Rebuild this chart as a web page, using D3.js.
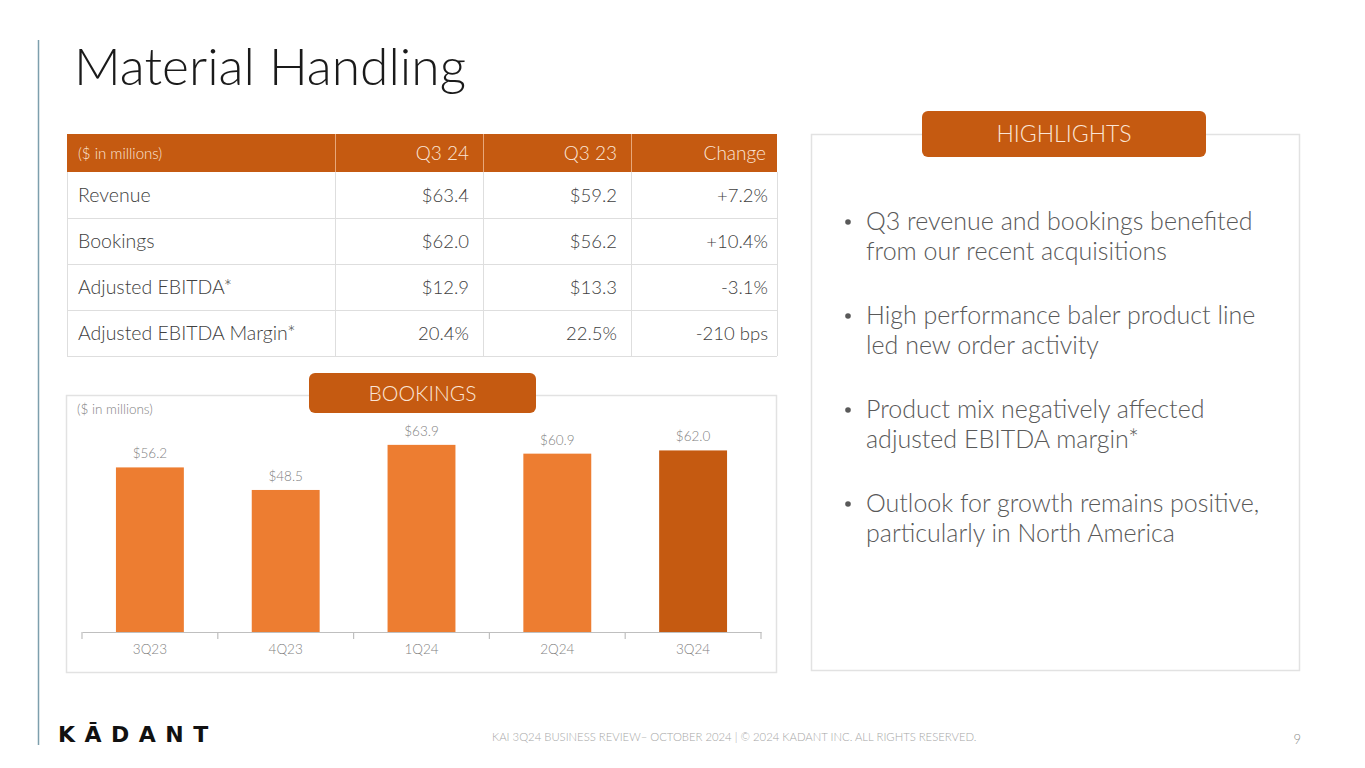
<!DOCTYPE html>
<html>
<head>
<meta charset="utf-8">
<script src="https://cdn.jsdelivr.net/npm/d3@7"></script>
<style>
  html, body { margin: 0; padding: 0; background: #fff; }
  svg { display: block; font-family: Lato, "Open Sans", sans-serif; }
</style>
</head>
<body>
<svg id="chart" width="1365" height="768"></svg>
<script>
// ---------- data ----------
const categories = ["3Q23", "4Q23", "1Q24", "2Q24", "3Q24"];
const bookings = [56.2, 48.5, 63.9, 60.9, 62.0];
const valueLabels = ["$56.2", "$48.5", "$63.9", "$60.9", "$62.0"];

const tableHeader = ["($ in millions)", "Q3 24", "Q3 23", "Change"];
const rowLabels = ["Revenue", "Bookings", "Adjusted EBITDA*", "Adjusted EBITDA Margin*"];
const colQ324 = ["$63.4", "$62.0", "$12.9", "20.4%"];
const colQ323 = ["$59.2", "$56.2", "$13.3", "22.5%"];
const colChange = ["+7.2%", "+10.4%", "-3.1%", "-210 bps"];

const highlights = [
  ["Q3 revenue and bookings benefited", "from our recent acquisitions"],
  ["High performance baler product line", "led new order activity"],
  ["Product mix negatively affected", "adjusted EBITDA margin*"],
  ["Outlook for growth remains positive,", "particularly in North America"]
];

// ---------- drawing ----------
const svg = d3.select("#chart");
const ORANGE = "#C55A11", LIGHT = "#ED7D31", PALE = "#fbe5d6";

// left rule
svg.append("line").attr("x1", 38.5).attr("x2", 38.5).attr("y1", 40).attr("y2", 745)
  .attr("stroke", "#7d9fad").attr("stroke-width", 1.5);

// title
svg.append("text").attr("x", 74).attr("y", 85).attr("font-size", 51.5).attr("font-weight", 300)
  .attr("fill", "#1a1a1a").text("Material Handling");

// ---------- table ----------
const tX = 67, tW = 710, headY = 134, headH = 38, rowH = 46;
const colEdges = [67, 335, 483, 631, 777];
const colRight = [469, 617, 766];
svg.append("rect").attr("x", tX).attr("y", headY).attr("width", tW).attr("height", headH).attr("fill", ORANGE);
colEdges.slice(1, 4).forEach(x => {
  svg.append("line").attr("x1", x + 0.5).attr("x2", x + 0.5).attr("y1", headY).attr("y2", headY + headH)
    .attr("stroke", "#e8a77a").attr("stroke-width", 1);
});
svg.append("text").attr("x", 78).attr("y", 159).attr("font-size", 15).attr("font-weight", 300)
  .attr("fill", PALE).text(tableHeader[0]);
tableHeader.slice(1).forEach((h, i) => {
  svg.append("text").attr("x", colRight[i]).attr("y", 160).attr("text-anchor", "end")
    .attr("font-size", 19).attr("font-weight", 300).attr("fill", PALE).text(h);
});
const bodyTop = headY + headH;
const grid = svg.append("g").attr("stroke", "#dedede").attr("stroke-width", 1);
rowLabels.forEach((r, i) => {
  const y = bodyTop + (i + 1) * rowH;
  grid.append("line").attr("x1", tX).attr("x2", tX + tW).attr("y1", y + 0.5).attr("y2", y + 0.5);
});
colEdges.forEach(x => {
  grid.append("line").attr("x1", x + 0.5).attr("x2", x + 0.5).attr("y1", bodyTop).attr("y2", bodyTop + 4 * rowH);
});
const cols = [colQ324, colQ323, colChange];
rowLabels.forEach((r, i) => {
  const y = bodyTop + i * rowH + 30;
  svg.append("text").attr("x", 78).attr("y", y).attr("font-size", 19.5).attr("font-weight", 300)
    .attr("fill", "#404040").text(r);
  cols.forEach((c, j) => {
    svg.append("text").attr("x", colRight[j] + (j === 2 ? 2 : 0)).attr("y", y).attr("text-anchor", "end")
      .attr("font-size", 18.5).attr("font-weight", 300).attr("fill", "#404040").text(c[i]);
  });
});

// ---------- bar chart ----------
svg.append("rect").attr("x", 66.5).attr("y", 395.5).attr("width", 710).attr("height", 277)
  .attr("fill", "none").attr("stroke", "#e2e2e2").attr("stroke-width", 1.5);
svg.append("rect").attr("x", 309).attr("y", 373).attr("width", 227).attr("height", 40).attr("rx", 6)
  .attr("fill", ORANGE);
svg.append("text").attr("x", 422.5).attr("y", 401).attr("text-anchor", "middle").attr("font-size", 21)
  .attr("font-weight", 300).attr("fill", PALE).text("BOOKINGS");
svg.append("text").attr("x", 77).attr("y", 414).attr("font-size", 13.5).attr("font-weight", 300)
  .attr("fill", "#7f7f7f").text("($ in millions)");

const x = d3.scaleBand().domain(categories).range([82, 761]).paddingInner(0.5).paddingOuter(0.25);
const y = d3.scaleLinear().domain([0, 70]).range([632, 427]);

svg.append("g").selectAll("rect").data(categories).join("rect")
  .attr("x", d => x(d)).attr("width", x.bandwidth())
  .attr("y", (d, i) => y(bookings[i])).attr("height", (d, i) => y(0) - y(bookings[i]))
  .attr("fill", (d, i) => i === categories.length - 1 ? ORANGE : LIGHT);

svg.append("g").selectAll("text").data(categories).join("text")
  .attr("x", d => x(d) + x.bandwidth() / 2).attr("y", (d, i) => y(bookings[i]) - 9)
  .attr("text-anchor", "middle").attr("font-size", 13.5).attr("font-weight", 300).attr("fill", "#7f7f7f")
  .text((d, i) => valueLabels[i]);

// axis
const axis = svg.append("g").attr("transform", `translate(0,${y(0)})`)
  .call(d3.axisBottom(x).tickSize(0).tickPadding(12));
axis.select(".domain").attr("stroke", "#bfbfbf").attr("stroke-width", 1.2);
axis.selectAll("text").attr("font-family", "Lato, sans-serif").attr("font-size", 13.5)
  .attr("font-weight", 300).attr("fill", "#7f7f7f");
const boundaries = d3.range(categories.length + 1).map(i => x.range()[0] + i * x.step());
svg.append("g").selectAll("line").data(boundaries).join("line")
  .attr("x1", d => d).attr("x2", d => d).attr("y1", y(0)).attr("y2", y(0) + 7)
  .attr("stroke", "#bfbfbf").attr("stroke-width", 1.2);

// ---------- highlights ----------
svg.append("rect").attr("x", 811.5).attr("y", 134.5).attr("width", 488).attr("height", 536)
  .attr("fill", "none").attr("stroke", "#e2e2e2").attr("stroke-width", 1.5);
svg.append("rect").attr("x", 922).attr("y", 111).attr("width", 284).attr("height", 46).attr("rx", 6)
  .attr("fill", ORANGE);
svg.append("text").attr("x", 1064).attr("y", 142).attr("text-anchor", "middle").attr("font-size", 23)
  .attr("font-weight", 300).attr("fill", PALE).text("HIGHLIGHTS");

highlights.forEach((lines, i) => {
  const by = 230 + i * 94;
  svg.append("circle").attr("cx", 848).attr("cy", by - 8).attr("r", 2.8).attr("fill", "#595959");
  lines.forEach((l, k) => {
    svg.append("text").attr("x", 866).attr("y", by + k * 30).attr("font-size", 25)
      .attr("font-weight", 300).attr("fill", "#595959").text(l);
  });
});

// ---------- footer ----------
svg.append("text").attr("x", 492).attr("y", 741).attr("font-size", 11.3).attr("font-weight", 300)
  .attr("fill", "#a6a6a6").text("KAI 3Q24 BUSINESS REVIEW– OCTOBER 2024  |  © 2024 KADANT INC. ALL RIGHTS RESERVED.");
svg.append("text").attr("x", 1301).attr("y", 744).attr("text-anchor", "end").attr("font-size", 13)
  .attr("font-weight", 300).attr("fill", "#8c8c8c").text("9");

// logo
svg.append("text").attr("x", 58).attr("y", 742).attr("font-family", "'DejaVu Sans', sans-serif")
  .attr("font-size", 22).attr("font-weight", 700).attr("letter-spacing", 9.5).attr("fill", "#111")
  .text("KĀDANT");
</script>
</body>
</html>
